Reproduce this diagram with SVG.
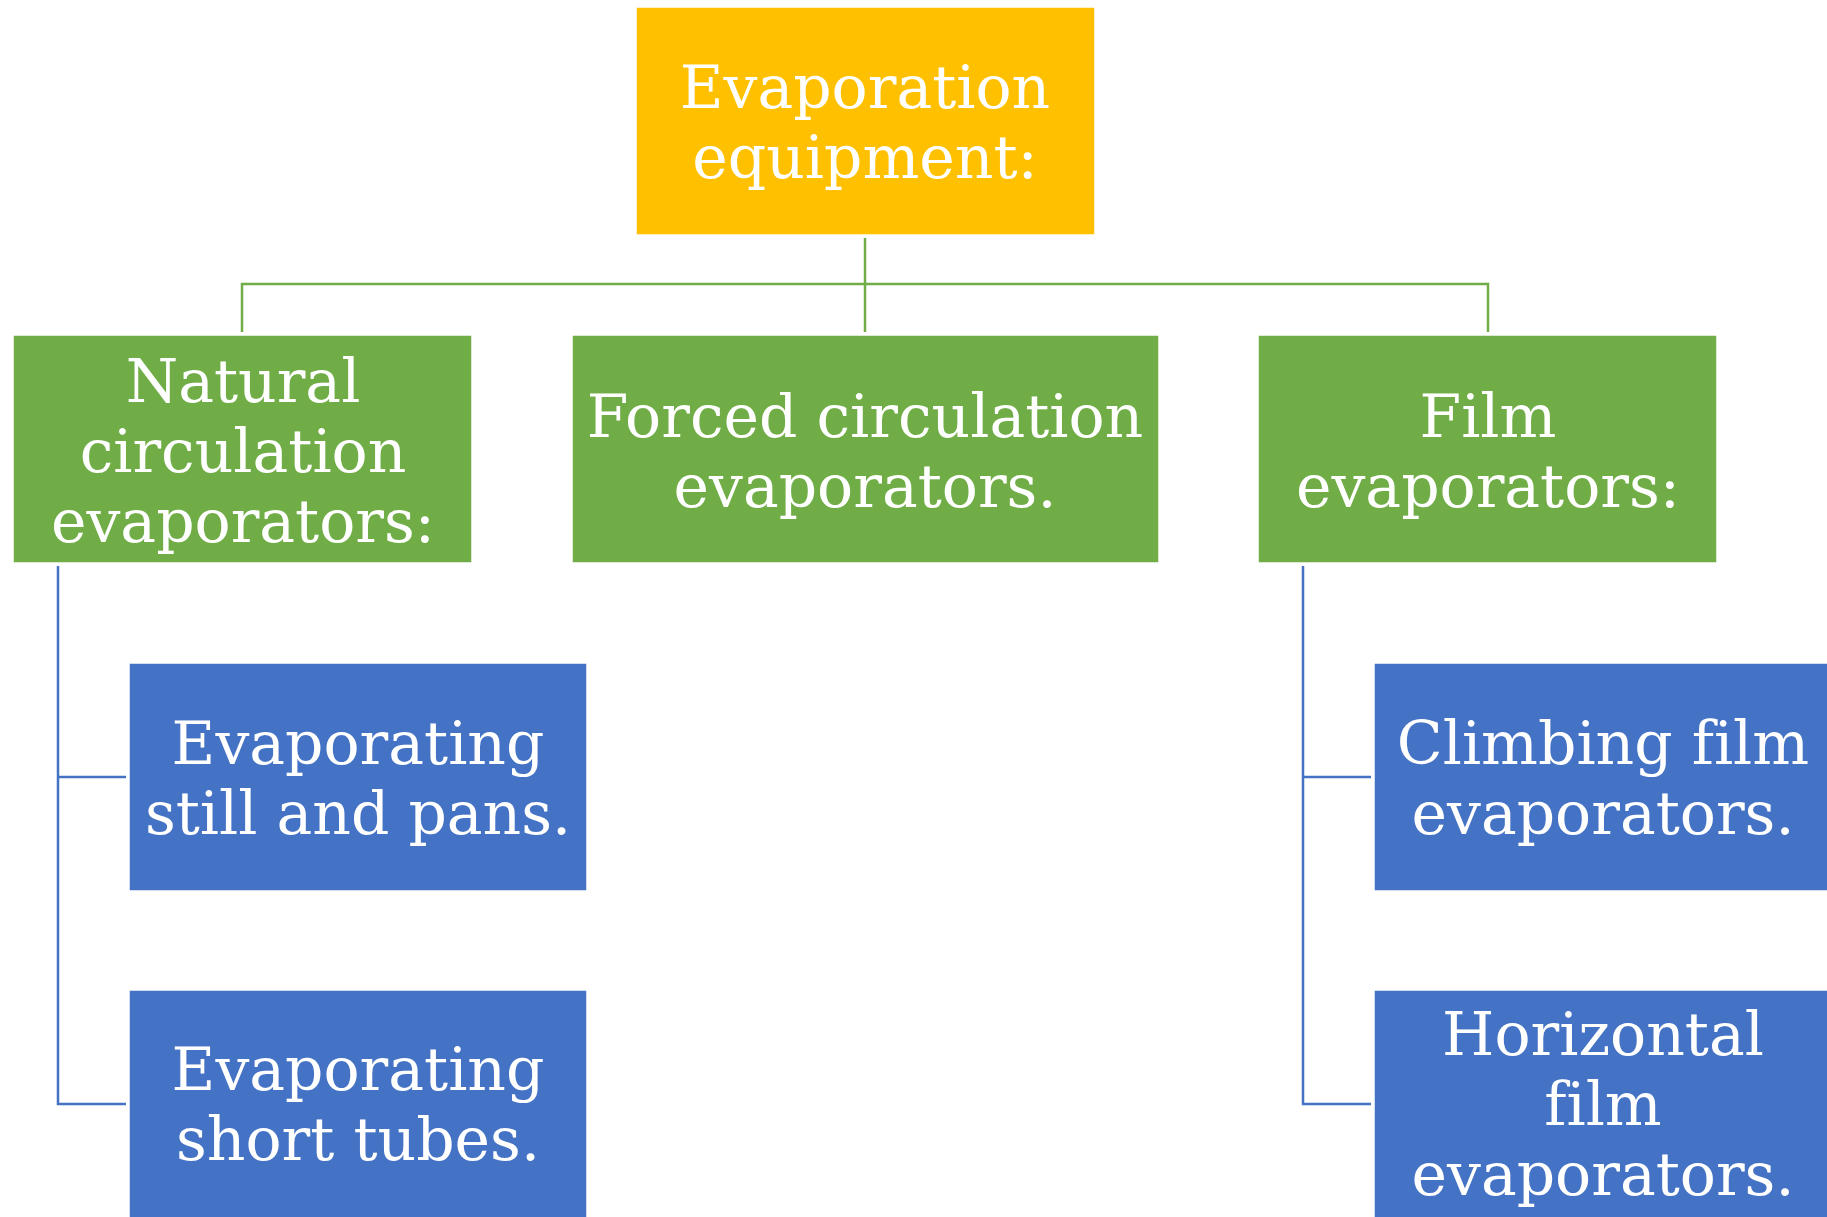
<svg xmlns="http://www.w3.org/2000/svg" width="1827" height="1217" viewBox="0 0 1827 1217">
<style>
.box{stroke:#ffffff;stroke-width:1.5}
.gold{fill:#FFC000}
.green{fill:#70AD47}
.blue{fill:#4472C4}
.t{font-family:"DejaVu Serif","Liberation Serif",serif;font-size:60px;fill:#ffffff;text-anchor:middle;font-variant-ligatures:none}
.cg{fill:none;stroke:#70AD47;stroke-width:2.5}
.cb{fill:none;stroke:#4472C4;stroke-width:2.5}
</style>
<rect width="1827" height="1217" fill="#ffffff"/>
<g id="connectors">
<path class="cg" d="M865 238 V332 M242 332 V284 H1488 V332"/>
<path class="cb" d="M58 566 V1104 H126 M58 777 H126"/>
<path class="cb" d="M1303 566 V1104 H1371 M1303 777 H1371"/>
</g>
<g id="n-root">
<rect class="box gold" x="636" y="7" width="459" height="228"/>
<text class="t" x="865" y="108">Evaporation</text>
<text class="t" x="865" y="178">equipment:</text>
</g>
<g id="n-natural">
<rect class="box green" x="13" y="335" width="459" height="228"/>
<text class="t" x="243" y="402">Natural</text>
<text class="t" x="243" y="472">circulation</text>
<text class="t" x="243" y="542">evaporators:</text>
</g>
<g id="n-forced">
<rect class="box green" x="572" y="335" width="587" height="228"/>
<text class="t" x="865" y="437">Forced circulation</text>
<text class="t" x="865" y="507">evaporators.</text>
</g>
<g id="n-film">
<rect class="box green" x="1258" y="335" width="459" height="228"/>
<text class="t" x="1488" y="437">Film</text>
<text class="t" x="1488" y="507">evaporators:</text>
</g>
<g id="n-still">
<rect class="box blue" x="129" y="663" width="458" height="228"/>
<text class="t" x="358" y="764">Evaporating</text>
<text class="t" x="358" y="834">still and pans.</text>
</g>
<g id="n-short">
<rect class="box blue" x="129" y="990" width="458" height="232"/>
<text class="t" x="358" y="1090">Evaporating</text>
<text class="t" x="358" y="1160">short tubes.</text>
</g>
<g id="n-climbing">
<rect class="box blue" x="1374" y="663" width="460" height="228"/>
<text class="t" x="1603" y="764">Climbing film</text>
<text class="t" x="1603" y="834">evaporators.</text>
</g>
<g id="n-horizontal">
<rect class="box blue" x="1374" y="990" width="460" height="232"/>
<text class="t" x="1603" y="1055">Horizontal</text>
<text class="t" x="1603" y="1125">film</text>
<text class="t" x="1603" y="1195">evaporators.</text>
</g>
</svg>
